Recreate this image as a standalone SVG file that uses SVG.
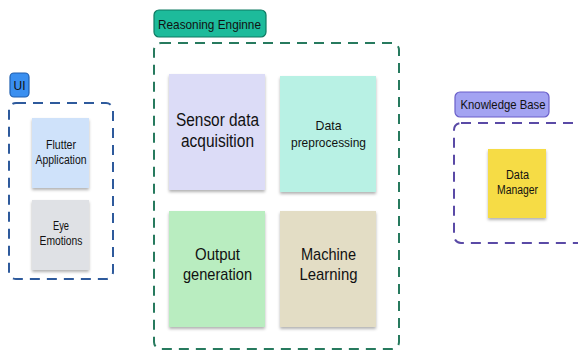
<svg xmlns="http://www.w3.org/2000/svg" width="578" height="352" viewBox="0 0 578 352">
<defs>
<filter id="sh" x="-20%" y="-20%" width="140%" height="140%">
<feDropShadow dx="0" dy="2" stdDeviation="1.5" flood-color="#000" flood-opacity="0.3"/>
</filter>
<style>
text{font-family:"Liberation Sans",Arial,sans-serif;fill:#111;text-anchor:middle}
.badge{stroke-width:1.2}
.cont{fill:none;stroke-width:2;stroke-dasharray:10 7}
.note{filter:url(#sh)}
</style>
</defs>
<rect width="578" height="352" fill="#fff"/>
<g id="ui">
<rect class="badge" x="10" y="73" width="19" height="24" rx="4" fill="#3a8ff0" stroke="#1f5fb0"/>
<text x="19.5" y="90" font-size="13" textLength="12" lengthAdjust="spacingAndGlyphs">UI</text>
<rect class="cont" x="9" y="103" width="104" height="176" rx="7" stroke="#2e5a9c"/>
</g>
<g id="flutter">
<rect class="note" x="32" y="118" width="57" height="70" fill="#cfe2fa"/>
<text x="61" y="149" font-size="12" textLength="30" lengthAdjust="spacingAndGlyphs">Flutter</text>
<text x="61" y="164" font-size="12" textLength="51" lengthAdjust="spacingAndGlyphs">Application</text>
</g>
<g id="eye">
<rect class="note" x="32" y="200" width="57" height="70" fill="#dfe1e5"/>
<text x="61" y="230" font-size="12" textLength="16" lengthAdjust="spacingAndGlyphs">Eye</text>
<text x="61" y="245" font-size="12" textLength="43" lengthAdjust="spacingAndGlyphs">Emotions</text>
</g>
<g id="reasoning">
<rect class="badge" x="154" y="10" width="112" height="27" rx="5" fill="#1dbb9b" stroke="#0e7a62"/>
<text x="209.5" y="29" font-size="13.5" textLength="103" lengthAdjust="spacingAndGlyphs">Reasoning  Enginne</text>
<rect class="cont" x="154" y="43" width="245" height="306" rx="7" stroke="#277a5e"/>
</g>
<g id="sensor">
<rect class="note" x="169" y="74" width="96" height="116" fill="#dcdcf7"/>
<text x="217.5" y="126" font-size="17.5" textLength="83" lengthAdjust="spacingAndGlyphs">Sensor data</text>
<text x="217.5" y="147" font-size="17.5" textLength="73" lengthAdjust="spacingAndGlyphs">acquisition</text>
</g>
<g id="preproc">
<rect class="note" x="280" y="76" width="96" height="116" fill="#b8f1e4"/>
<text x="328.5" y="130" font-size="13" textLength="26" lengthAdjust="spacingAndGlyphs">Data</text>
<text x="328.5" y="147" font-size="13" textLength="75" lengthAdjust="spacingAndGlyphs">preprocessing</text>
</g>
<g id="output">
<rect class="note" x="169" y="211" width="96" height="116" fill="#b9edc0"/>
<text x="217.5" y="260" font-size="17" textLength="45" lengthAdjust="spacingAndGlyphs">Output</text>
<text x="217.5" y="280" font-size="17" textLength="69" lengthAdjust="spacingAndGlyphs">generation</text>
</g>
<g id="ml">
<rect class="note" x="280" y="211" width="96" height="116" fill="#e3ddc5"/>
<text x="328.5" y="260" font-size="17" textLength="55" lengthAdjust="spacingAndGlyphs">Machine</text>
<text x="328.5" y="280" font-size="17" textLength="58" lengthAdjust="spacingAndGlyphs">Learning</text>
</g>
<g id="kb">
<rect class="badge" x="455" y="92" width="94" height="25" rx="5" fill="#a3a3f2" stroke="#6a5fc9"/>
<text x="503" y="109" font-size="13" textLength="85" lengthAdjust="spacingAndGlyphs">Knowledge Base</text>
<rect class="cont" x="454" y="123" width="130" height="120" rx="7" stroke="#5a4aa6"/>
</g>
<g id="dm">
<rect class="note" x="488" y="149" width="58" height="69" fill="#f6dc45"/>
<text x="517.5" y="179" font-size="12" textLength="23" lengthAdjust="spacingAndGlyphs">Data</text>
<text x="517.5" y="194" font-size="12" textLength="41" lengthAdjust="spacingAndGlyphs">Manager</text>
</g>
<g id="connectors"></g>
</svg>
